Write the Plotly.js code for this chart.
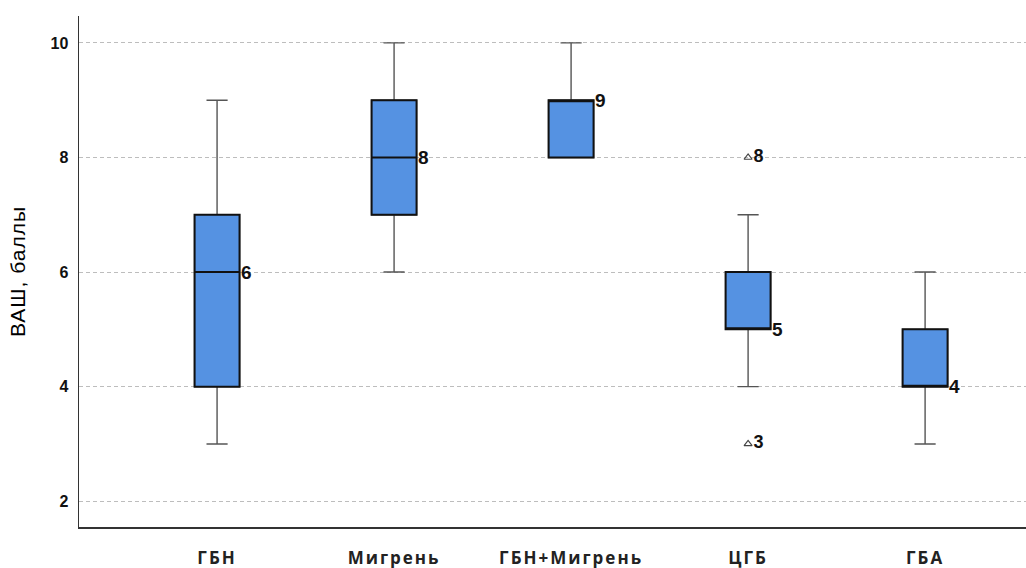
<!DOCTYPE html>
<html>
<head>
<meta charset="utf-8">
<script src="https://cdn.plot.ly/plotly-3.0.1.min.js"></script>
<style>
html,body{margin:0;padding:0;background:#fff;}
#chart{width:1026px;height:568px;}
#chart .xtick text{letter-spacing:2px;}
#chart .ytitle{letter-spacing:1px;}
</style>
</head>
<body>
<div id="chart"></div>
<script>
const categories = ["ГБН", "Мигрень", "ГБН+Мигрень", "ЦГБ", "ГБА"];
const lowerWhisker = [3, 6, 8, 4, 3];
const q1Values = [4, 7, 8, 5, 4];
const medianValues = [6, 8, 9, 5, 4];
const q3Values = [7, 9, 9, 6, 5];
const upperWhisker = [9, 10, 10, 7, 6];
const outlierCategories = ["ЦГБ", "ЦГБ"];
const outlierValues = [8, 3];
const yTickValues = [2, 4, 6, 8, 10];

// whiskers (grey)
const whiskerTrace = {
  type: "box",
  x: categories,
  q1: q1Values,
  median: medianValues,
  q3: q3Values,
  lowerfence: lowerWhisker,
  upperfence: upperWhisker,
  boxpoints: false,
  width: 0.254,
  whiskerwidth: 0.47,
  fillcolor: "#5592e2",
  line: {color: "#555", width: 1.4},
  hoverinfo: "skip",
  showlegend: false
};
// box body (black outline, thicker median)
const boxTrace = {
  type: "box",
  x: categories,
  q1: q1Values,
  median: medianValues,
  q3: q3Values,
  lowerfence: q1Values,
  upperfence: q3Values,
  boxpoints: false,
  width: 0.254,
  whiskerwidth: 0,
  fillcolor: "#5592e2",
  line: {color: "#111", width: 2},
  hoverinfo: "skip",
  showlegend: false
};

const outlierTrace = {
  type: "scatter",
  mode: "markers+text",
  x: outlierCategories,
  y: outlierValues,
  text: outlierValues.map(String),
  textposition: "middle right",
  textfont: {family: "Liberation Sans, Arial, sans-serif", size: 18, color: "#111", weight: "bold"},
  marker: {symbol: "triangle-up-open", size: 7, color: "#444", line: {width: 1.2, color: "#444"}},
  showlegend: false,
  hoverinfo: "skip",
  cliponaxis: false
};

const annotations = categories.map((c, i) => ({
  x: c, y: medianValues[i], xref: "x", yref: "y",
  text: "<b>" + medianValues[i] + "</b>",
  showarrow: false, xanchor: "left", yanchor: "middle", xshift: 22,
  font: {family: "Liberation Sans, Arial, sans-serif", size: 19, color: "#111"}
}));

const layout = {
  width: 1026, height: 568,
  margin: {l: 79, r: 0, t: 16, b: 41},
  paper_bgcolor: "#fff", plot_bgcolor: "#fff",
  showlegend: false,
  boxmode: "overlay",
  xaxis: {
    type: "category",
    categoryorder: "array",
    categoryarray: categories,
    range: [-0.78, 4.57],
    showgrid: false, zeroline: false,
    showline: true, linecolor: "#333", linewidth: 1.5,
    ticks: "", ticklabelstandoff: 15,
    tickfont: {family: "Open Sans, sans-serif", size: 17, color: "#222", weight: "bold"}
  },
  yaxis: {
    range: [1.55, 10.47],
    tickvals: yTickValues,
    ticktext: yTickValues.map(String),
    showgrid: true, gridcolor: "#bdbdbd", griddash: "4px,3px", gridwidth: 1,
    zeroline: false,
    showline: true, linecolor: "#333", linewidth: 1.5,
    ticks: "", ticklabelstandoff: 6,
    tickfont: {family: "Liberation Sans, Arial, sans-serif", size: 16, color: "#111", weight: "bold"},
    title: {text: "ВАШ, баллы", standoff: 19, font: {family: "Liberation Sans, Arial, sans-serif", size: 21, color: "#000"}}
  },
  annotations: annotations
};

Plotly.newPlot("chart", [whiskerTrace, boxTrace, outlierTrace], layout, {displayModeBar: false, staticPlot: true});
</script>
</body>
</html>
